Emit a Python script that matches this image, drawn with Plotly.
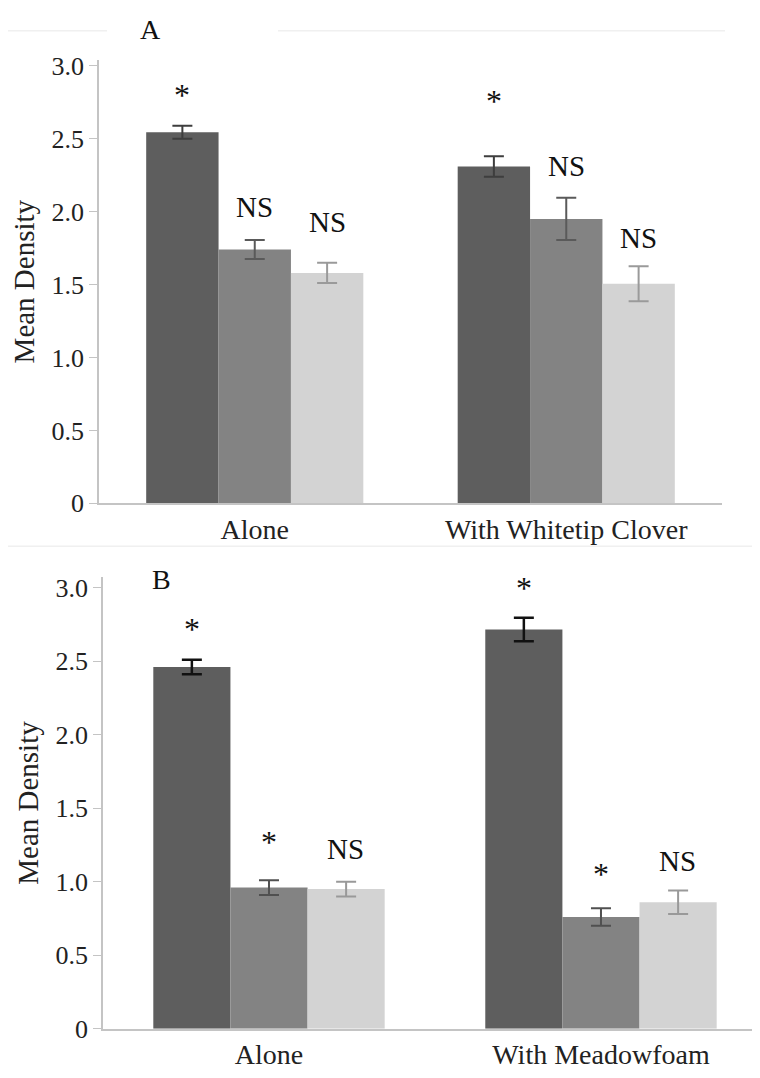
import plotly.graph_objects as go

# ---------------- data ----------------
cats_a = ["Alone", "With Whitetip Clover"]
cats_b = ["Alone", "With Meadowfoam"]

series_names = ["Series 1", "Series 2", "Series 3"]

a_means = [[2.545, 2.31], [1.74, 1.95], [1.58, 1.505]]
a_errs = [[0.045, 0.07], [0.065, 0.145], [0.07, 0.12]]
a_marks = [["*", "*"], ["NS", "NS"], ["NS", "NS"]]
a_mark_y = [[2.80, 2.76], [2.03, 2.31], [1.93, 1.82]]

b_means = [[2.46, 2.715], [0.96, 0.76], [0.95, 0.86]]
b_errs = [[0.05, 0.08], [0.05, 0.06], [0.05, 0.08]]
b_marks = [["*", "*"], ["*", "*"], ["NS", "NS"]]
b_mark_y = [[2.72, 3.00], [1.27, 1.05], [1.22, 1.14]]

y_ticks = [0, 0.5, 1.0, 1.5, 2.0, 2.5, 3.0]
y_ticktext = ["0", "0.5", "1.0", "1.5", "2.0", "2.5", "3.0"]

# ---------------- style ----------------
bar_colors = ["#5e5e5e", "#838383", "#d3d3d3"]
err_colors_a = ["#3e3e3e", "#5a5a5a", "#9a9a9a"]
err_colors_b = ["#111111", "#505050", "#999999"]
FONT = "'Liberation Serif', 'DejaVu Serif'"

# page body has an 8px margin; work in reference-pixel coordinates
W, H, M = 752, 1070, 8


def px(X):
    return (X - M) / W


def py(Y):
    return 1 - (Y - M) / H


fig = go.Figure()

for i in range(3):
    fig.add_trace(go.Bar(
        x=cats_a, y=a_means[i], name=series_names[i], showlegend=False,
        marker=dict(color=bar_colors[i], line=dict(width=0)),
        error_y=dict(type="data", array=a_errs[i], color=err_colors_a[i],
                     thickness=2, width=10),
        xaxis="x", yaxis="y", offsetgroup=str(i),
    ))
for i in range(3):
    fig.add_trace(go.Bar(
        x=cats_b, y=b_means[i], name=series_names[i], showlegend=False,
        marker=dict(color=bar_colors[i], line=dict(width=0)),
        error_y=dict(type="data", array=b_errs[i], color=err_colors_b[i],
                     thickness=2.5 if i == 0 else 2, width=10),
        xaxis="x2", yaxis="y2", offsetgroup=str(i),
    ))

annotations = []
offsets = [-1, 0, 1]
bw_a = (1 - 0.303) / 3
bw_b = (1 - 0.307) / 3
for i in range(3):
    for j in range(2):
        annotations.append(dict(
            x=j + offsets[i] * bw_a, y=a_mark_y[i][j], xref="x", yref="y",
            text=a_marks[i][j], showarrow=False, yanchor="middle",
            font=dict(family=FONT, size=29 if a_marks[i][j] == "NS" else 32, color="#111")))
        annotations.append(dict(
            x=j + offsets[i] * bw_b, y=b_mark_y[i][j], xref="x2", yref="y2",
            text=b_marks[i][j], showarrow=False, yanchor="middle",
            font=dict(family=FONT, size=29 if b_marks[i][j] == "NS" else 32, color="#111")))

annotations.append(dict(x=px(138), y=py(22), xref="paper", yref="paper", yanchor="middle",
                        text="A", showarrow=False, font=dict(family=FONT, size=28, color="#111")))
annotations.append(dict(x=px(150), y=py(584), xref="paper", yref="paper", yanchor="middle",
                        text="B", showarrow=False, font=dict(family=FONT, size=28, color="#111")))

axis_common = dict(
    showline=True, linecolor="#c4c4c4", linewidth=1.5,
    ticks="outside", ticklen=8, tickcolor="#c4c4c4",
    tickfont=dict(family=FONT, size=26, color="#222"),
    showgrid=False, zeroline=False,
)
xaxis_common = {**axis_common, "ticks": "", "tickfont": dict(family=FONT, size=28, color="#222")}
ytitle = dict(text="Mean Density", font=dict(family=FONT, size=29, color="#222"), standoff=8)

fig.update_layout(
    width=W, height=H,
    margin=dict(l=0, r=0, t=0, b=0),
    paper_bgcolor="white", plot_bgcolor="white",
    font=dict(family=FONT),
    barmode="group",
    bargap=0.303,
    bargroupgap=0,
    hovermode=False,
    annotations=annotations,
    xaxis=dict(domain=[px(99), px(722)], anchor="y", **xaxis_common),
    yaxis=dict(domain=[py(506), py(53)], anchor="x", range=[0, 3.04],
               tickvals=y_ticks, ticktext=y_ticktext, title=ytitle, **axis_common),
    xaxis2=dict(domain=[px(103), 1.0], anchor="y2", range=[-0.5, 1.479], **xaxis_common),
    yaxis2=dict(domain=[py(1043), py(581.6)], anchor="x2", range=[0, 3.07],
                tickvals=y_ticks, ticktext=y_ticktext, title=ytitle, **axis_common),
    shapes=[
        dict(type="line", xref="paper", yref="paper", x0=px(7), x1=px(107),
             y0=py(23), y1=py(23), line=dict(color="#f0f0f0", width=1.5)),
        dict(type="line", xref="paper", yref="paper", x0=px(278), x1=px(725),
             y0=py(23), y1=py(23), line=dict(color="#f0f0f0", width=1.5)),
        dict(type="line", xref="paper", yref="paper", x0=px(8), x1=1.0,
             y0=py(550), y1=py(550), line=dict(color="#f0f0f0", width=1.5)),
    ],
)

fig.write_html("out.html")
